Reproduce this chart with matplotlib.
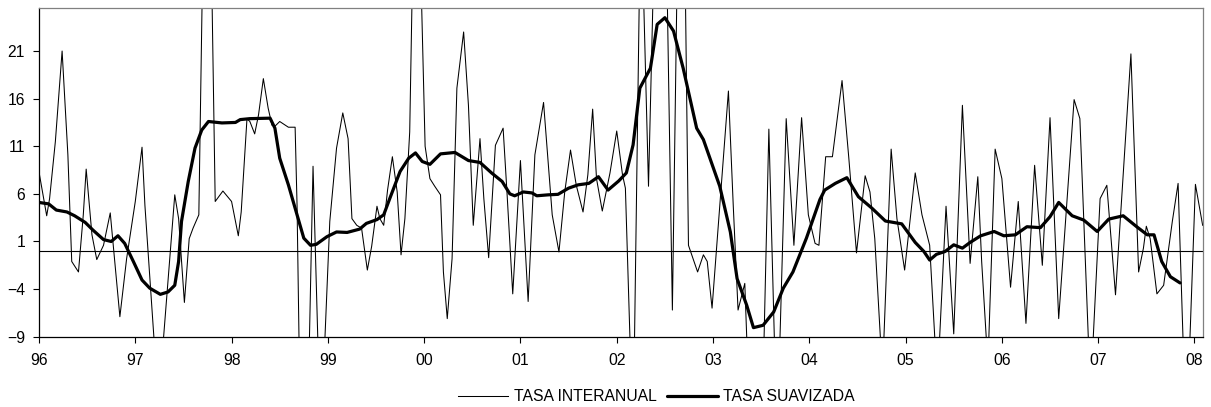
import matplotlib
matplotlib.use('Agg')
import matplotlib.pyplot as plt

# ── DATA (time = years after Jan 1996) ─────────────────────────────────────
interanual_t = [0.00, 0.08, 0.11, 0.17, 0.24, 0.30, 0.34, 0.41, 0.46, 0.49,
                0.55, 0.60, 0.67, 0.74, 0.84, 0.91, 1.00, 1.07, 1.10, 1.24,
                1.41, 1.45, 1.51, 1.56, 1.60, 1.66, 1.745, 1.83, 1.91, 2.00,
                2.07, 2.10, 2.16, 2.19, 2.24, 2.28, 2.33, 2.38, 2.42, 2.45,
                2.50, 2.59, 2.66, 2.68, 2.745, 2.846, 2.925, 3.02, 3.09, 3.155,
                3.21, 3.25, 3.30, 3.35, 3.41, 3.455, 3.51, 3.54, 3.58, 3.62,
                3.67, 3.72, 3.76, 3.80, 3.85, 3.915, 4.01, 4.06, 4.11, 4.17,
                4.20, 4.24, 4.29, 4.34, 4.41, 4.46, 4.51, 4.58, 4.62, 4.67,
                4.74, 4.82, 4.86, 4.92, 5.00, 5.08, 5.15, 5.24, 5.33, 5.40,
                5.46, 5.52, 5.58, 5.65, 5.70, 5.75, 5.79, 5.85, 5.93, 6.00,
                6.06, 6.09, 6.17, 6.25, 6.33, 6.42, 6.50, 6.578, 6.64, 6.70,
                6.745, 6.84, 6.90, 6.94, 6.99, 7.07, 7.16, 7.21, 7.26, 7.33,
                7.46, 7.58, 7.665, 7.76, 7.84, 7.92, 7.99, 8.06, 8.10, 8.17,
                8.24, 8.34, 8.41, 8.49, 8.58, 8.63, 8.68, 8.76, 8.85, 8.91,
                8.99, 9.10, 9.17, 9.25, 9.33, 9.42, 9.50, 9.59, 9.67, 9.75,
                9.79, 9.855, 9.93, 10.00, 10.09, 10.17, 10.25, 10.34, 10.42, 10.50,
                10.59, 10.75, 10.81, 10.92, 11.02, 11.09, 11.18, 11.34, 11.42, 11.47,
                11.50, 11.54, 11.61, 11.68, 11.77, 11.83, 11.915, 12.01, 12.085]
interanual_v = [8.3, 3.7, 5.5, 11.5, 21.0, 10.1, -1.1, -2.2, 3.8, 8.6,
                1.7, -0.9, 0.6, 4.0, -6.9, -0.8, 5.2, 10.9, 4.8, -16.0,
                5.9, 3.4, -5.4, 1.3, 2.4, 3.8, 60.0, 5.2, 6.3, 5.2,
                1.6, 4.1, 13.9, 13.6, 12.3, 14.3, 18.1, 15.0, 13.2, 13.1,
                13.6, 13.0, 13.0, 4.8, -40.0, 8.9, -20.0, 3.1, 10.8, 14.5,
                11.8, 3.4, 2.7, 2.4, -2.0, 0.5, 4.7, 3.4, 2.7, 6.4,
                9.9, 6.2, -0.4, 3.4, 12.5, 50.0, 11.0, 7.6, 6.8, 5.9,
                -2.2, -7.1, -0.8, 17.1, 23.0, 15.3, 2.7, 11.8, 5.5, -0.7,
                11.1, 12.9, 6.2, -4.5, 9.5, -5.3, 10.1, 15.6, 3.8, -0.1,
                6.2, 10.6, 6.9, 4.1, 8.0, 14.9, 7.6, 4.2, 8.2, 12.6,
                8.0, 6.6, -20.0, 38.0, 6.8, 45.0, 42.0, -6.2, 38.0, 38.0,
                0.6, -2.2, -0.4, -1.1, -6.0, 4.8, 16.8, 4.8, -6.2, -3.4,
                -40.0, 12.8, -20.0, 13.9, 0.6, 14.0, 3.8, 0.8, 0.6, 9.9,
                9.9, 17.9, 9.8, -0.2, 7.9, 6.2, 1.3, -13.0, 10.7, 3.4,
                -2.0, 8.2, 3.8, 0.6, -14.0, 4.7, -8.7, 15.3, -1.3, 7.8,
                -1.1, -12.0, 10.7, 7.6, -3.8, 5.2, -7.6, 9.0, -1.5, 14.0,
                -7.1, 15.9, 13.9, -15.0, 5.5, 6.9, -4.6, 20.7, -2.2, 0.3,
                2.6, 1.3, -4.5, -3.6, 3.1, 7.1, -20.0, 7.0, 2.7]

suavizada_t = [0.00, 0.10, 0.18, 0.29, 0.37, 0.48, 0.56, 0.67, 0.75, 0.82,
               0.89, 0.98, 1.07, 1.15, 1.26, 1.34, 1.41, 1.45, 1.48, 1.55,
               1.62, 1.69, 1.76, 1.90, 2.04, 2.09, 2.19, 2.40, 2.45, 2.50,
               2.59, 2.68, 2.75, 2.82, 2.88, 2.99, 3.09, 3.20, 3.33, 3.40,
               3.51, 3.58, 3.65, 3.75, 3.84, 3.91, 3.98, 4.06, 4.17, 4.32,
               4.46, 4.58, 4.70, 4.81, 4.89, 4.94, 5.03, 5.12, 5.17, 5.29,
               5.39, 5.50, 5.60, 5.71, 5.81, 5.91, 6.02, 6.10, 6.17, 6.24,
               6.35, 6.42, 6.50, 6.59, 6.69, 6.83, 6.90, 7.07, 7.18, 7.25,
               7.35, 7.42, 7.52, 7.63, 7.73, 7.83, 7.97, 8.11, 8.16, 8.27,
               8.39, 8.51, 8.65, 8.79, 8.96, 9.10, 9.19, 9.25, 9.32, 9.41,
               9.50, 9.59, 9.67, 9.78, 9.92, 10.02, 10.14, 10.26, 10.40, 10.50,
               10.59, 10.73, 10.85, 10.99, 11.11, 11.26, 11.40, 11.51, 11.58, 11.66,
               11.75, 11.85]
suavizada_v = [5.1, 4.95, 4.3, 4.1, 3.7, 3.0, 2.2, 1.2, 1.0, 1.6,
               0.8, -1.1, -3.05, -3.9, -4.55, -4.3, -3.6, -1.1, 3.1, 7.3,
               10.8, 12.7, 13.6, 13.45, 13.5, 13.8, 13.9, 13.95, 12.9, 9.75,
               6.95, 3.8, 1.35, 0.6, 0.7, 1.5, 2.0, 1.95, 2.3, 2.9,
               3.3, 3.8, 5.7, 8.35, 9.75, 10.3, 9.4, 9.1, 10.2, 10.35,
               9.5, 9.3, 8.2, 7.3, 6.0, 5.8, 6.2, 6.1, 5.8, 5.9,
               5.95, 6.6, 6.95, 7.1, 7.8, 6.4, 7.35, 8.2, 11.15, 17.1,
               19.2, 23.8, 24.5, 23.1, 19.2, 12.9, 11.7, 6.8, 2.0, -2.9,
               -5.7, -8.05, -7.8, -6.4, -3.9, -2.2, 1.35, 5.4, 6.4, 7.1,
               7.7, 5.7, 4.5, 3.15, 2.85, 0.9, -0.05, -0.95, -0.35, -0.05,
               0.65, 0.3, 0.9, 1.6, 2.05, 1.6, 1.7, 2.55, 2.45, 3.6,
               5.1, 3.7, 3.25, 2.05, 3.35, 3.7, 2.55, 1.7, 1.7, -1.1,
               -2.7, -3.35]

y_ticks = [-9, -4, 1, 6, 11, 16, 21]
x_ticks = list(range(13))
x_labels = ['96', '97', '98', '99', '00', '01', '02', '03', '04', '05', '06', '07', '08']

# ── STYLE ──────────────────────────────────────────────────────────────────
plt.rcParams.update({
    'font.family': ['Liberation Sans', 'DejaVu Sans'],
    'font.size': 11.3,
})

fig = plt.figure(figsize=(12.11, 4.07), dpi=100)
ax = fig.add_axes([0.0322, 0.1727, 0.9609, 0.8072])

ax.plot(interanual_t, interanual_v, color='black', linewidth=0.75,
        solid_joinstyle='round', label='TASA INTERANUAL', zorder=2)
ax.plot(suavizada_t, suavizada_v, color='black', linewidth=2.3,
        solid_joinstyle='round', solid_capstyle='round',
        label='TASA SUAVIZADA', zorder=3)
ax.axhline(0, color='black', linewidth=0.8, zorder=1)

ax.set_xlim(0, 12.085)
ax.set_ylim(-9, 25.5)
ax.set_xticks(x_ticks)
ax.set_xticklabels(x_labels)
ax.set_yticks(y_ticks)
ax.tick_params(axis='both', direction='out', length=4, width=0.8, colors='black')
ax.tick_params(axis='x', pad=8)
ax.tick_params(axis='y', pad=6)

for side in ['left', 'bottom']:
    ax.spines[side].set_color('black')
    ax.spines[side].set_linewidth(0.9)
for side in ['top', 'right']:
    ax.spines[side].set_color('#808080')
    ax.spines[side].set_linewidth(0.9)

fig.legend(loc='center', bbox_to_anchor=(0.542, 0.0246), ncol=2, frameon=False,
           handlelength=3.2, handletextpad=0.35, columnspacing=0.7,
           borderpad=0)

fig.savefig('out.png', dpi=100)
